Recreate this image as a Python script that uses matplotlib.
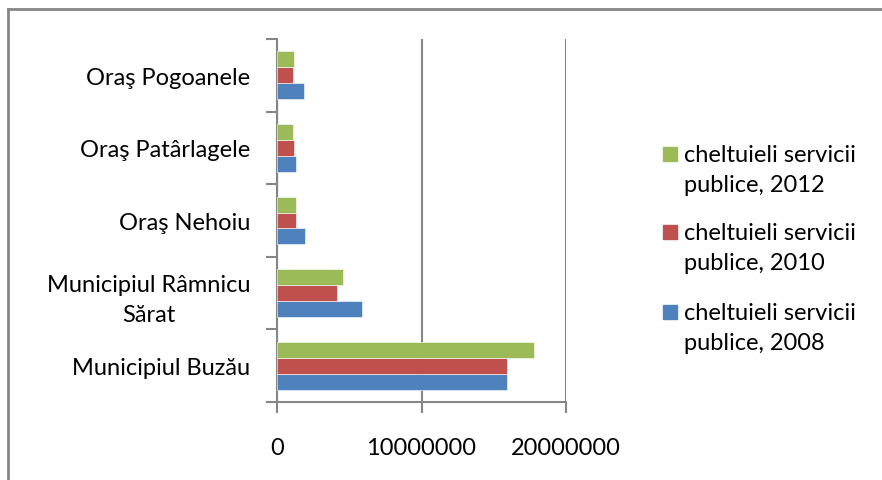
import matplotlib.pyplot as plt
from matplotlib.patches import Rectangle
from matplotlib.lines import Line2D

categories = ['Municipiul Buzău', 'Municipiul Râmnicu\nSărat', 'Oraş Nehoiu',
              'Oraş Patârlagele', 'Oraş Pogoanele']
v2008 = [15940000, 5910000, 1940000, 1320000, 1850000]
v2010 = [15940000, 4160000, 1340000, 1150000, 1130000]
v2012 = [17800000, 4570000, 1340000, 1130000, 1200000]
series = ['cheltuieli servicii\npublice, 2008',
          'cheltuieli servicii\npublice, 2010',
          'cheltuieli servicii\npublice, 2012']
colors = ['#4F81BD', '#C0504D', '#9BBB59']
xticks = [0, 10000000, 20000000]

plt.rcParams['font.family'] = ['Lato', 'DejaVu Sans']
fs = 17
grey = '#868686'

W, H = 882, 481
fig = plt.figure(figsize=(W / 100, H / 100), dpi=100)
ax = fig.add_axes([277 / W, 1 - 403 / H, (566 - 277) / W, (403 - 40) / H])

h = 0.22
pos = list(range(len(categories)))
for k, vals in enumerate([v2008, v2010, v2012]):
    ax.barh([p + (k - 1) * h for p in pos], vals, height=h, color=colors[k],
            edgecolor='white', linewidth=0.4, zorder=3)

ax.set_xlim(0, 20000000)
ax.set_ylim(-0.5, len(categories) - 0.5)
ax.set_xticks(xticks)
ax.set_xticklabels([str(t) for t in xticks], fontsize=fs)
ax.tick_params(axis='x', direction='out', length=8, width=1.5, color=grey, pad=17)
ax.grid(axis='x', color=grey, linewidth=1.5, zorder=1)

ax.set_yticks([p - 0.5 for p in pos] + [len(categories) - 0.5])
ax.set_yticklabels([])
ax.tick_params(axis='y', which='major', direction='out', length=8, width=1.5, color=grey)
ax.set_yticks(pos, minor=True)
ax.set_yticklabels(categories, minor=True, fontsize=fs)
ax.tick_params(axis='y', which='minor', length=0, pad=19)
for lab in ax.get_yticklabels(minor=True):
    lab.set_multialignment('center')
    lab.set_linespacing(1.5)

for s in ['top', 'right']:
    ax.spines[s].set_visible(False)
for s in ['left', 'bottom']:
    ax.spines[s].set_color(grey)
    ax.spines[s].set_linewidth(1.5)

# legend drawn by hand: square next to first line of each entry
ly = [155, 233, 313]
for k, (lab, col) in enumerate(zip(series[::-1], colors[::-1])):
    y = ly[k]
    fig.patches.append(Rectangle((663 / W, 1 - (y + 7) / H), 14 / W, 14 / H,
                                 transform=fig.transFigure, color=col))
    fig.text(684 / W, 1 - (y - 10) / H, lab, fontsize=fs, va='top', ha='left',
             linespacing=1.55)

# outer chart frame (top and left edges visible)
fig.lines.append(Line2D([8 / W, 1], [1 - 10 / H, 1 - 10 / H], transform=fig.transFigure,
                        color=grey, linewidth=2))
fig.lines.append(Line2D([8 / W, 8 / W], [0, 1 - 10 / H], transform=fig.transFigure,
                        color=grey, linewidth=2))

fig.savefig('out.png', dpi=100)
